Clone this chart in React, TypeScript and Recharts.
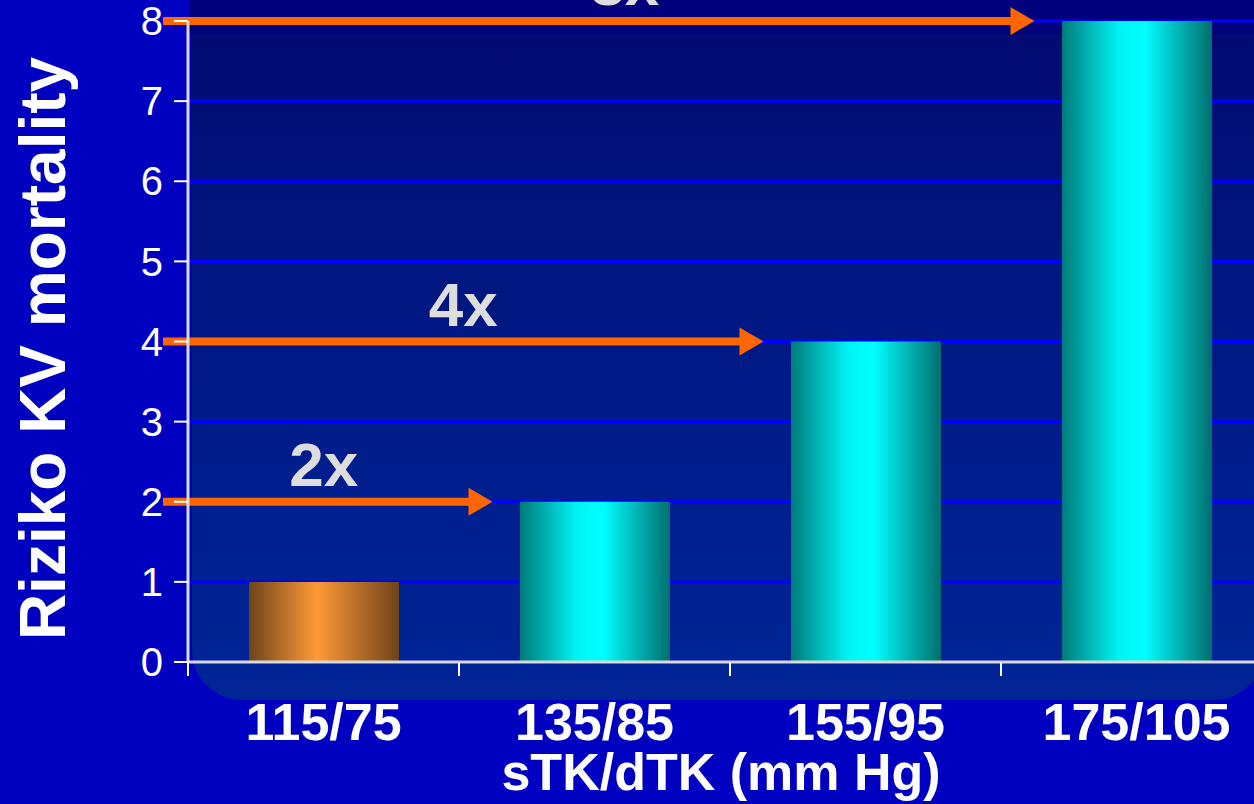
import React from 'react';
import { BarChart, Bar, Cell, XAxis, YAxis, CartesianGrid, ReferenceLine } from 'recharts';

// blood pressure groups (systolic/diastolic) and relative CV mortality risk
const categories = ['115/75', '135/85', '155/95', '175/105'];
const risk = [1, 2, 4, 8];
const yTicks = [0, 1, 2, 3, 4, 5, 6, 7, 8];

const data = categories.map((bp, i) => ({ bp, risk: risk[i] }));

const FRAME_W = 1254;
const FRAME_H = 804;
const CHART_W = 1300;
const BAR_SIZE = 150;
const FONT = '"Liberation Sans", Arial, Helvetica, sans-serif';
const ARROW = '#FF6600';
// horizontal nudge of each multiple label away from the arrow midpoint
const LABEL_NUDGE = [-4, 0, 26];

// Horizontal arrow from the y axis towards the bar with the given index,
// plus the "Nx" multiple above it.
function Arrow(props: any) {
  const { x1, x2, y1, idx, label, nudge } = props;
  const band = (x2 - x1) / categories.length;
  const start = x1 - 25;
  const tip = x1 + idx * band + (band - BAR_SIZE) / 2 - 27;
  const head = 24;
  const half = 14;
  const y = y1;
  return (
    <g>
      <rect x={start} y={y - 4} width={tip - head - start + 1} height={8} fill={ARROW} />
      <polygon
        points={`${tip - head},${y - half} ${tip},${y} ${tip - head},${y + half}`}
        fill={ARROW}
      />
      <text
        x={(start + tip) / 2 + nudge}
        y={y - 16}
        textAnchor="middle"
        fontSize={62}
        fontWeight="bold"
        fill="#DDDDDD"
        fontFamily={FONT}
      >
        {label}
      </text>
    </g>
  );
}

// Category tick: boundary tick mark on the left of the band and the label below.
function XTick(props: any) {
  const { x, y, payload } = props;
  const half = payload?.offset ?? 0;
  return (
    <g>
      <line x1={x - half} x2={x - half} y1={y + 1} y2={y + 14} stroke="#FFFFFF" strokeWidth={2} />
      <text
        x={x}
        y={y + 78}
        textAnchor="middle"
        fontSize={52}
        fontWeight="bold"
        fill="#FFFFFF"
        fontFamily={FONT}
      >
        {payload.value}
      </text>
    </g>
  );
}

export default function App() {
  return (
    <div
      style={{
        position: 'fixed',
        left: 0,
        top: 0,
        width: FRAME_W,
        height: FRAME_H,
        overflow: 'hidden',
        background: '#0000C0',
      }}
    >
      {/* dark band and rounded plot panel */}
      <div
        style={{ position: 'absolute', left: 190, top: 0, width: FRAME_W - 190, height: 34, background: '#00007C' }}
      />
      <div
        style={{
          position: 'absolute',
          left: 192,
          top: 34,
          width: 1072,
          height: 666,
          borderRadius: '0 0 50px 50px',
          background: 'linear-gradient(to bottom, #030B72 0%, #001782 40%, #001F8F 70%, #002597 100%)',
        }}
      />
      <div style={{ position: 'absolute', left: 0, top: 0 }}>
        <BarChart
          width={CHART_W}
          height={FRAME_H}
          data={data}
          margin={{ top: 21, right: 28, bottom: 0, left: 0 }}
        >
          <defs>
            <linearGradient id="gCyan" x1="0" y1="0" x2="1" y2="0">
              <stop offset="0%" stopColor="#007A7A" />
              <stop offset="38%" stopColor="#00F4F4" />
              <stop offset="55%" stopColor="#00FFFF" />
              <stop offset="100%" stopColor="#006E6E" />
            </linearGradient>
            <linearGradient id="gOrange" x1="0" y1="0" x2="1" y2="0">
              <stop offset="0%" stopColor="#6E431A" />
              <stop offset="45%" stopColor="#FF9A35" />
              <stop offset="100%" stopColor="#6E431A" />
            </linearGradient>
          </defs>
          <CartesianGrid vertical={false} stroke="#0000FF" strokeWidth={3} />
          <XAxis
            dataKey="bp"
            interval={0}
            height={142}
            tickSize={0}
            tickMargin={0}
            tickLine={false}
            axisLine={{ stroke: '#D9D9D9', strokeWidth: 3 }}
            tick={(p: any) => <XTick {...p} />}
            label={(p: any) => {
              const vb = p.viewBox;
              return (
                <text
                  x={(vb.x + FRAME_W) / 2}
                  y={vb.y + 128}
                  textAnchor="middle"
                  fontSize={52}
                  fontWeight="bold"
                  fill="#FFFFFF"
                  fontFamily={FONT}
                >
                  sTK/dTK (mm Hg)
                </text>
              );
            }}
          />
          <YAxis
            width={188}
            domain={[0, 8]}
            ticks={yTicks}
            interval={0}
            tickSize={14}
            tickMargin={11}
            tick={{ fill: '#FFFFFF', fontSize: 40, fontFamily: FONT }}
            tickLine={{ stroke: '#FFFFFF', strokeWidth: 2 }}
            axisLine={{ stroke: '#D9D9D9', strokeWidth: 3 }}
            label={(p: any) => {
              const vb = p.viewBox;
              const cx = 65;
              const cy = vb.y + vb.height / 2 + 7;
              return (
                <text
                  x={cx}
                  y={cy}
                  transform={`rotate(-90, ${cx}, ${cy})`}
                  textAnchor="middle"
                  fontSize={64}
                  fontWeight="bold"
                  fill="#FFFFFF"
                  fontFamily={FONT}
                >
                  Riziko KV mortality
                </text>
              );
            }}
          />
          <Bar dataKey="risk" barSize={BAR_SIZE} isAnimationActive={false}>
            {data.map((d, i) => (
              <Cell key={d.bp} fill={i === 0 ? 'url(#gOrange)' : 'url(#gCyan)'} />
            ))}
          </Bar>
          {risk.slice(1).map((v, k) => (
            <ReferenceLine
              key={v}
              y={v}
              shape={(p: any) => (
                <Arrow {...p} idx={k + 1} nudge={LABEL_NUDGE[k]} label={`${v / risk[0]}x`} />
              )}
            />
          ))}
        </BarChart>
      </div>
    </div>
  );
}
